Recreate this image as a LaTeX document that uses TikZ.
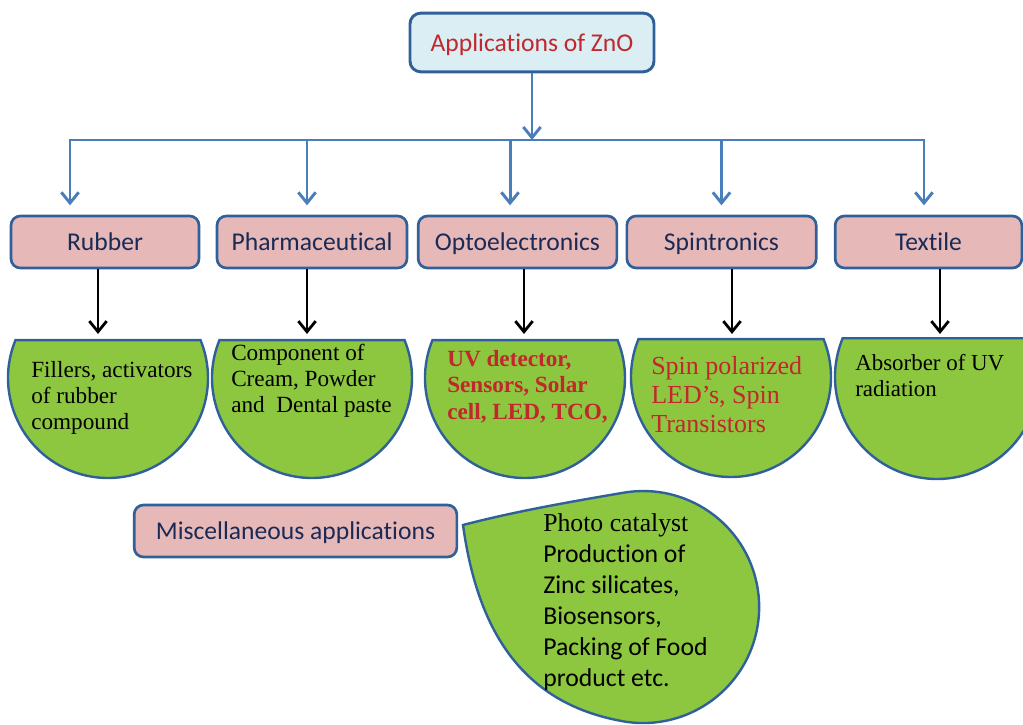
\documentclass[tikz,border=0pt]{standalone}
\usepackage{fontspec}
\setmainfont{Liberation Serif}
\newfontfamily\carlito[Ligatures=NoCommon]{Carlito}
\usepackage{tikz}
\usetikzlibrary{arrows.meta,positioning,calc}
\definecolor{ZnoNavy}{HTML}{1B2A55}
\definecolor{ZnoRed}{HTML}{C0282D}
\definecolor{ZnoBlue}{HTML}{4A7EBB}
\definecolor{ZnoEdge}{HTML}{30609A}
\definecolor{ZnoSky}{HTML}{DAEEF3}
\definecolor{ZnoPink}{HTML}{E6B9B8}
\definecolor{ZnoGreen}{HTML}{8DC63F}

\begin{document}
\begin{tikzpicture}[x=0.75pt,y=0.75pt,
    titlebox/.style={draw=ZnoEdge,line width=2.2pt,fill=ZnoSky,rounded corners=8pt,
      minimum width=183pt,minimum height=44pt,inner sep=0pt,text=ZnoRed,
      text height=15pt,text depth=2pt,
      font=\carlito\fontsize{19.2}{23}\selectfont},
    catbox/.style={draw=ZnoEdge,line width=2pt,fill=ZnoPink,rounded corners=7pt,
      minimum height=39pt,inner sep=0pt,text=ZnoNavy,
      text height=15pt,text depth=2pt,
      font=\carlito\fontsize{19.2}{23}\selectfont},
    segment/.style={draw=ZnoEdge,line width=1.8pt,fill=ZnoGreen},
    segtext/.style={anchor=west,align=left,inner sep=0pt,
      font=\fontsize{17.4}{19.6}\selectfont},
    bluelink/.style={draw=ZnoBlue,line width=2.2pt,
      -{Straight Barb[length=8pt,width=13pt]}},
    blacklink/.style={draw=black,line width=2.1pt,
      -{Straight Barb[length=8pt,width=13pt]}}]
        \useasboundingbox (0,0) rectangle (1023,724);
        \clip (0,0) rectangle (1023,724);

        % top and category boxes
        \node[titlebox] (zno) at (532,681.5) {Applications of ZnO};
        \node[catbox,minimum width=141pt] (rubber) at (105,482) {Rubber};
        \node[catbox,minimum width=142.5pt] (pharma) at (312,482) {Pharmaceutical};
        \node[catbox,minimum width=149pt] (opto) at (517.5,482) {Optoelectronics};
        \node[catbox,minimum width=142pt] (spin) at (721.5,482) {Spintronics};
        \node[catbox,minimum width=140pt] (textile) at (928.5,482) {Textile};
        \node[catbox,minimum width=242pt] (misc) at (295.5,193) {Miscellaneous applications};

        % tree connectors
        \coordinate (bus) at (532,584);
        \draw[bluelink] (zno.south) -- (bus);
        \draw[bluelink,shorten >=7pt] (bus) -| ([xshift=-26.25pt]rubber.north);
        \draw[bluelink,shorten >=7pt] (bus) -| ([xshift=-3.75pt]pharma.north);
        \draw[bluelink,shorten >=7pt] (bus) -| ([xshift=-5.6pt]opto.north);
        \draw[bluelink,shorten >=7pt] (bus) -| (spin.north);
        \draw[bluelink,shorten >=7pt] (bus) -| ([xshift=-3.4pt]textile.north);

        % green chords
        \draw[segment] (108,346) ++(157.7:100) arc[start angle=157.7,end angle=382.3,radius=100] -- cycle;
        \draw[segment] (312,346) ++(157.7:100) arc[start angle=157.7,end angle=382.3,radius=100] -- cycle;
        \draw[segment] (525,346) ++(157.7:100) arc[start angle=157.7,end angle=382.3,radius=100] -- cycle;
        \draw[segment] (731,347) ++(157.7:100) arc[start angle=157.7,end angle=382.3,radius=100] -- cycle;
        \draw[segment] (937,347) ++(157.7:102) arc[start angle=157.7,end angle=382.3,radius=102] -- cycle;
        \coordinate (rubtop) at (98,390);
        \coordinate (phatop) at (307,390);
        \coordinate (optotop) at (524,390);
        \coordinate (spintop) at (732,390);
        \coordinate (textop) at (940,390);
        \draw[blacklink] (rubber.south -| rubtop) -- (rubtop);
        \draw[blacklink] (pharma.south -| phatop) -- (phatop);
        \draw[blacklink] (opto.south -| optotop) -- (optotop);
        \draw[blacklink] (spin.south -| spintop) -- (spintop);
        \draw[blacklink] (textile.south -| textop) -- (textop);

        \node[segtext] (rubtxt) at (31,326) {Fillers, activators\\of rubber\\compound};
        \node[segtext] (phatxt) at (231,343) {Component of\\Cream, Powder\\and~ Dental paste};
        \node[segtext,text=ZnoRed,font=\bfseries\fontsize{17.4}{19.8}\selectfont] (optotxt) at (447,337.5)
          {UV detector,\\Sensors, Solar\\cell, LED, TCO,};
        \node[segtext,text=ZnoRed,font=\fontsize{19.5}{21.8}\selectfont] (spintxt) at (651,329)
          {Spin polarized\\LED’s, Spin\\Transistors};
        \node[segtext,font=\fontsize{17.2}{19.5}\selectfont] (textxt) at (855,348) {Absorber of UV\\radiation};

        % teardrop
        \draw[segment] (463,199) .. controls (513,212) and (563,221) .. (623,231.2)
          arc[start angle=100,end angle=-100,radius=116]
          .. controls (524.4,20.2) and (478,90) .. (463,199) -- cycle;
        \node[segtext,font=\carlito\fontsize{19.3}{23.25}\selectfont] (misctxt) at (543,121.5)
          {{\rmfamily Photo catalyst}\\Production of\\Zinc silicates,\\Biosensors,\\Packing of Food\\product etc.};
      \end{tikzpicture}
\end{document}
